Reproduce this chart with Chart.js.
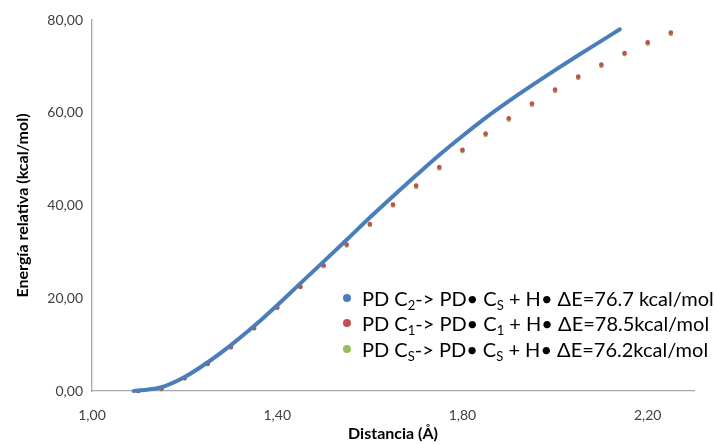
<!DOCTYPE html>
<html><head><meta charset="utf-8">
<script src="https://cdn.jsdelivr.net/npm/chart.js@4.4.0/dist/chart.umd.min.js"></script>
<style>
html,body{margin:0;padding:0;background:#fff;}
#wrap{position:relative;width:716px;height:444px;}
#legend{position:absolute;left:343px;top:285px;font-family:Lato;font-size:20px;color:#000;}
.item{display:flex;align-items:center;height:25.5px;white-space:nowrap;}
.dot{width:8px;height:8px;border-radius:50%;margin-right:11px;flex:none;}
sub{font-size:65%;vertical-align:-0.3em;line-height:0;}
</style></head><body>
<div id="wrap"><canvas id="c" width="716" height="444"></canvas><div id="legend"></div></div>
<script>
// Blue series: PD C2 scan
const distBlue   = [1.09, 1.10, 1.15, 1.20, 1.25, 1.30, 1.35, 1.40, 1.45, 1.50, 1.55, 1.60, 1.65, 1.70, 1.75, 1.80, 1.85, 1.90, 1.95, 2.00, 2.05, 2.10, 2.14];
const energyBlue = [0.0, 0.1, 0.8, 3.0, 6.2, 9.9, 14.0, 18.5, 23.2, 27.9, 32.6, 37.4, 42.0, 46.5, 50.9, 55.0, 58.9, 62.5, 65.9, 69.2, 72.4, 75.5, 78.0];
// Red and green series: sampled every 0.05 Å
const distDots    = [1.10, 1.15, 1.20, 1.25, 1.30, 1.35, 1.40, 1.45, 1.50, 1.55, 1.60, 1.65, 1.70, 1.75, 1.80, 1.85, 1.90, 1.95, 2.00, 2.05, 2.10, 2.15, 2.20, 2.25];
const energyRed   = [0.0, 0.5, 2.8, 5.9, 9.5, 13.6, 18.0, 22.5, 27.1, 31.6, 36.0, 40.2, 44.3, 48.3, 52.0, 55.5, 58.8, 62.0, 65.0, 67.8, 70.4, 72.9, 75.2, 77.3];
const energyGreen = [0.0, 0.4, 2.7, 5.8, 9.4, 13.5, 17.9, 22.4, 26.9, 31.4, 35.8, 40.0, 44.0, 48.0, 51.7, 55.2, 58.5, 61.7, 64.7, 67.5, 70.1, 72.6, 74.9, 77.0];
const xTicks = [1.0, 1.4, 1.8, 2.2];
const yTicks = [0, 20, 40, 60, 80];
const seriesLabels = [
  'PD C₂-> PD• Cs + H• ΔE=76.7 kcal/mol',
  'PD C₁-> PD• C₁ + H• ΔE=78.5kcal/mol',
  'PD Cs-> PD• Cs + H• ΔE=76.2kcal/mol'
];
const legendHtml = [
  'PD C<sub>2</sub>-&gt; PD• C<sub>S</sub> + H• ΔE=76.7 kcal/mol',
  'PD C<sub>1</sub>-&gt; PD• C<sub>1</sub> + H• ΔE=78.5kcal/mol',
  'PD C<sub>S</sub>-&gt; PD• C<sub>S</sub> + H• ΔE=76.2kcal/mol'
];
const colors = ['#4a7ebb', '#c0504d', '#9bbb59'];

const pts = (xs, ys) => xs.map((x, i) => ({x: x, y: ys[i]}));
const fmt = v => Number(v).toFixed(2).replace('.', ',');

const chart = new Chart(document.getElementById('c'), {
  type: 'scatter',
  data: {
    datasets: [
      {label: seriesLabels[0], data: pts(distBlue, energyBlue), showLine: true, borderColor: colors[0], backgroundColor: colors[0],
       borderWidth: 4, pointRadius: 0, cubicInterpolationMode: 'monotone', borderCapStyle: 'round', clip: false},
      {label: seriesLabels[1], data: pts(distDots, energyRed), showLine: false, backgroundColor: colors[1], borderColor: colors[1],
       borderWidth: 0, pointRadius: 2.3, clip: false},
      {label: seriesLabels[2], data: pts(distDots, energyGreen), showLine: false, backgroundColor: colors[2], borderColor: colors[2],
       borderWidth: 0, pointRadius: 2.3, clip: false}
    ]
  },
  options: {
    responsive: false,
    animation: false,
    layout: {padding: {top: 20, right: 22, left: 0, bottom: 0}},
    plugins: {legend: {display: false}, tooltip: {enabled: false}},
    scales: {
      x: {
        type: 'linear', min: 1.0, max: 2.3,
        afterBuildTicks: s => { s.ticks = xTicks.map(v => ({value: v})); },
        afterFit: s => { s.height = 53; },
        grid: {display: false, drawTicks: false},
        border: {display: true, color: '#a6a6a6', width: 1.3},
        ticks: {padding: 16, maxRotation: 0, autoSkip: false, color: '#404040', font: {family: 'Lato', size: 14}, callback: v => fmt(v)},
        title: {display: true, text: 'Distancia (Å)', color: '#000', font: {family: 'Lato', size: 16, weight: 'bold'}, padding: {top: 0, bottom: 1}}
      },
      y: {
        type: 'linear', min: 0, max: 80,
        afterBuildTicks: s => { s.ticks = yTicks.map(v => ({value: v})); },
        afterFit: s => { s.width = 92; },
        grid: {display: false, drawTicks: false},
        border: {display: true, color: '#a6a6a6', width: 1.3},
        ticks: {padding: 9, color: '#404040', font: {family: 'Lato', size: 14}, callback: v => fmt(v)},
        title: {display: true, text: 'Energía relativa (kcal/mol)', color: '#000', font: {family: 'Lato', size: 16, weight: 'bold'}, padding: {top: 13, bottom: 0}}
      }
    }
  }
});

const leg = document.getElementById('legend');
chart.data.datasets.forEach((ds, i) => {
  const row = document.createElement('div');
  row.className = 'item';
  const dot = document.createElement('span');
  dot.className = 'dot';
  dot.style.background = colors[i];
  const txt = document.createElement('span');
  txt.innerHTML = legendHtml[i];
  row.appendChild(dot); row.appendChild(txt);
  leg.appendChild(row);
});
</script>
</body></html>
